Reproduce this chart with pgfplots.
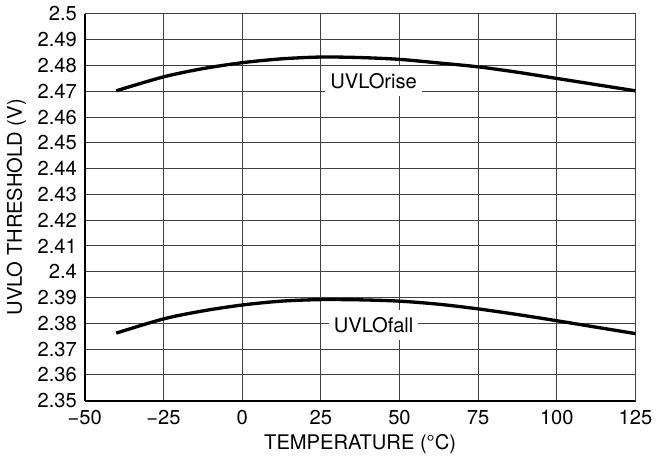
\documentclass[border=0pt]{standalone}
\usepackage{fontspec}
\setmainfont{TeX Gyre Heros}
\usepackage{pgfplots}
\pgfplotsset{compat=1.18}

\begin{document}
\fontsize{20}{24}\selectfont
\begin{tikzpicture}
\begin{axis}[
    scale only axis,
    width=547pt, height=384pt,
    xmin=-50, xmax=125,
    ymin=2.35, ymax=2.5,
    xtick={-50,-25,0,25,50,75,100,125},
    xticklabels={−50,−25,0,25,50,75,100,125},
    ytick={2.35,2.36,...,2.505},
    yticklabel style={/pgf/number format/fixed, /pgf/number format/precision=2,
        /pgf/number format/assume math mode=true},
    tick style={draw=none},
    grid=major,
    major grid style={black!75, line width=1pt},
    axis line style={line width=2pt},
    axis x line*=bottom, axis y line*=left,
    xlabel={TEMPERATURE (°C)},
    ylabel={UVLO THRESHOLD (V)},
    xlabel style={yshift=4pt},
    ylabel style={yshift=-2pt},
    xticklabel style={yshift=-3pt},
    yticklabel style={xshift=-1pt},
    every tick label/.append style={font=\fontsize{20}{24}\selectfont},
    label style={font=\fontsize{20}{24}\selectfont},
    clip=false,
]
% grid closing lines at top and right
\draw[black!75, line width=1pt] (axis cs:-50,2.5) -- (axis cs:125,2.5) -- (axis cs:125,2.35);
\addplot[black, line width=3.3pt, smooth] coordinates {
    (-40,2.4702) (-25,2.4756) (-12.5,2.4788) (0,2.4811) (12.5,2.4826) (25,2.4833) (37.5,2.4831)
    (50,2.4824) (62.5,2.4810) (75,2.4795) (87.5,2.4774) (100,2.4750) (112.5,2.4726) (125,2.4702)
};
\addplot[black, line width=3.3pt, smooth] coordinates {
    (-40,2.3762) (-25,2.3817) (-12.5,2.3848) (0,2.3871) (12.5,2.3886) (25,2.3892) (37.5,2.3891)
    (50,2.3886) (62.5,2.3874) (75,2.3856) (87.5,2.3834) (100,2.3810) (112.5,2.3785) (125,2.3760)
};
\node[fill=white, inner xsep=5pt, minimum height=30pt] at (axis cs:41.8,2.4741) {UVLOrise};
\node[fill=white, inner xsep=5pt, minimum height=30pt] at (axis cs:41.8,2.3794) {UVLOfall};
\end{axis}
\end{tikzpicture}
\end{document}
